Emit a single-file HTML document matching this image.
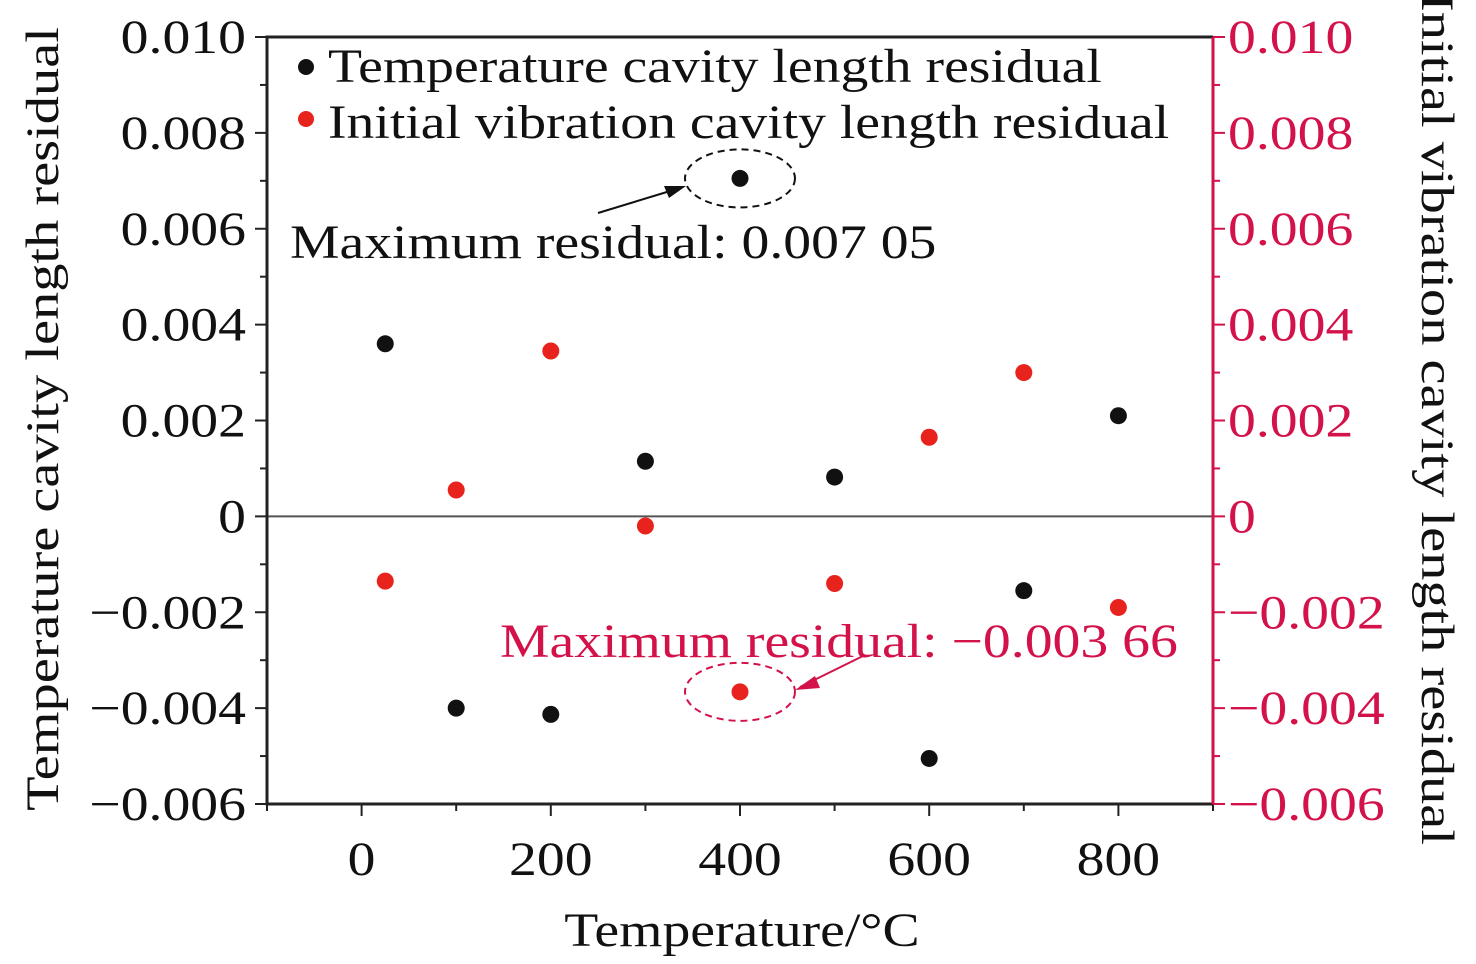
<!DOCTYPE html>
<html><head><meta charset="utf-8"><style>
body{margin:0;background:#fff;}
svg{display:block;font-family:"Liberation Serif",serif;}
</style></head><body>
<svg id="chart" width="1476" height="964" viewBox="0 0 1476 964"></svg>
<script>
const xValues=[25,100,200,300,400,500,600,700,800];
const tempResidual=[0.0036,-0.0040,-0.00413,0.00115,0.00705,0.00082,-0.00505,-0.00155,0.00210];
const vibResidual=[-0.00135,0.00055,0.00345,-0.0002,-0.00366,-0.0014,0.00165,0.0030,-0.0019];
const xTicks=[0,200,400,600,800];
const yTicks=[-0.006,-0.004,-0.002,0,0.002,0.004,0.006,0.008,0.010];
const yTickLabels=["\u22120.006","\u22120.004","\u22120.002","0","0.002","0.004","0.006","0.008","0.010"];
const L=267,R=1213,T=37,B=804,X0=-100,X1=900,Y0=-0.006,Y1=0.010;
const sx=v=>L+(v-X0)/(X1-X0)*(R-L);
const sy=v=>B-(v-Y0)/(Y1-Y0)*(B-T);
const svg=document.getElementById('chart');
const NS='http://www.w3.org/2000/svg';
function mk(tag,attrs,parent){const e=document.createElementNS(NS,tag);for(const k in attrs)e.setAttribute(k,attrs[k]);(parent||svg).appendChild(e);return e;}
const RED='#d3124a';
let z=mk('line',{x1:L,x2:R,y1:sy(0),y2:sy(0),stroke:'#555','stroke-width':2});


let f=mk('path',{d:`M${R},${T}H${L}V${B}H${R}`,fill:'none',stroke:'#222','stroke-width':3});


let ra=mk('line',{x1:R,x2:R,y1:T,y2:B,stroke:RED,'stroke-width':3});


for(let v=-100;v<=900;v+=100){const x=sx(v);const maj=(v%200===0);
 let t=mk('line',{x1:x,x2:x,y1:B,y2:B+(maj?12:7),stroke:'#222','stroke-width':2});
 
 }
xTicks.forEach(v=>{let t=mk('text',{x:sx(v),y:875,'font-size':48,'text-anchor':'middle',fill:'#111'});t.textContent=v;
 
 });
for(let i=0;i<=16;i++){const v=Y0+i*0.001;const y=sy(v);const maj=i%2===0;
 let a=mk('line',{x1:L,x2:L-(maj?12:7),y1:y,y2:y,stroke:'#222','stroke-width':2});
 
 
 let b=mk('line',{x1:R,x2:R+(maj?12:7),y1:y,y2:y,stroke:RED,'stroke-width':2});
 
 }
yTicks.forEach((v,i)=>{
 let a=mk('text',{x:246,y:sy(v)+16,'font-size':48,'text-anchor':'end',fill:'#111'});a.textContent=yTickLabels[i];
 
 
 let b=mk('text',{x:1228,y:sy(v)+16,'font-size':48,'text-anchor':'start',fill:RED});b.textContent=yTickLabels[i];
 
 });
let xt=mk('text',{x:742,y:946,'font-size':48,'text-anchor':'middle',fill:'#111'});xt.textContent='Temperature/\u00B0C';


let yl=mk('text',{x:0,y:0,'font-size':47,'text-anchor':'middle',fill:'#111',transform:'translate(58,419) rotate(-90)'});yl.textContent='Temperature cavity length residual';


let yr=mk('text',{x:0,y:0,'font-size':47,'text-anchor':'middle',fill:'#111',transform:'translate(1422,419) rotate(90)'});yr.textContent='Initial vibration cavity length residual';


xValues.forEach((x,i)=>{
 let c=mk('circle',{cx:sx(x),cy:sy(tempResidual[i]),r:8.5,fill:'#111'});
 
 
 let d=mk('circle',{cx:sx(x),cy:sy(vibResidual[i]),r:8.5,fill:'#e8231d'});
 
 });
let l1=mk('circle',{cx:306,cy:67,r:8,fill:'#111'});


let lt1=mk('text',{x:328,y:82,'font-size':48,fill:'#111'});lt1.textContent='Temperature cavity length residual';


let l2=mk('circle',{cx:306,cy:119,r:8,fill:'#e8231d'});


let lt2=mk('text',{x:328,y:138,'font-size':48,fill:'#111'});lt2.textContent='Initial vibration cavity length residual';


const mx=sx(400),my1=sy(0.00705),my2=sy(-0.00366);
let e1=mk('ellipse',{cx:mx,cy:my1,rx:55,ry:29,fill:'none',stroke:'#111','stroke-width':2,'stroke-dasharray':'7,5'});


let a1=mk('line',{x1:598,y1:213,x2:680,y2:188,stroke:'#111','stroke-width':2});


let h1=mk('path',{d:'M686,186 L664,186 L669,198 Z',fill:'#111'});


let at1=mk('text',{x:290,y:258,'font-size':48,fill:'#111'});at1.textContent='Maximum residual: 0.007 05';


let e2=mk('ellipse',{cx:mx,cy:my2,rx:55,ry:29,fill:'none',stroke:RED,'stroke-width':2,'stroke-dasharray':'7,5'});


let a2=mk('line',{x1:800,y1:687,x2:865,y2:655,stroke:RED,'stroke-width':2});


let h2=mk('path',{d:'M795,690 L815,676 L820,688 Z',fill:RED});


let at2=mk('text',{x:500,y:657,'font-size':48,fill:RED});at2.textContent='Maximum residual: \u22120.003 66';


// widen all text to match reference glyph widths
svg.querySelectorAll('text').forEach(t=>{
 const w=t.getComputedTextLength();
 const k=(t===yl||t===yr)?1.2:1.16;
 t.setAttribute('textLength',(w*k).toFixed(1));
 t.setAttribute('lengthAdjust','spacingAndGlyphs');
});
</script>
</body></html>
